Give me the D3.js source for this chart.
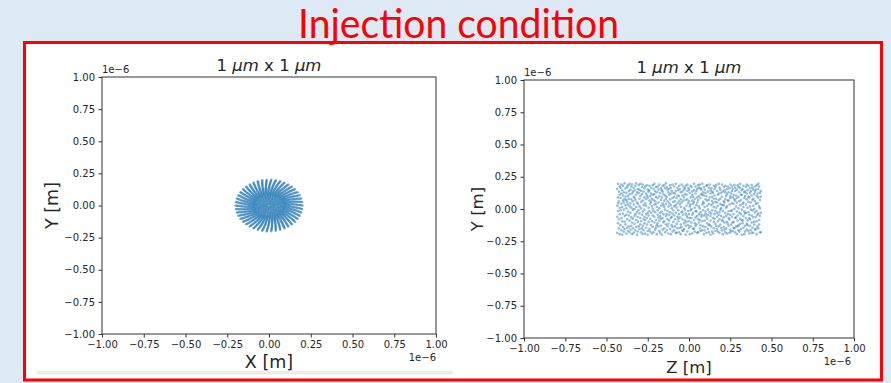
<!DOCTYPE html>
<html>
<head>
<meta charset="utf-8">
<script src="https://cdn.jsdelivr.net/npm/d3@7/dist/d3.min.js"></script>
<style>
  html, body { margin: 0; padding: 0; background: #dde9f5; }
  svg { display: block; }
</style>
</head>
<body>
<svg id="chart" width="891" height="383"></svg>
<script>
// ---- data (positions in micrometres, axes are labelled in units of 1e-6 m) ----
const tickValues = [-1, -0.75, -0.5, -0.25, 0, 0.25, 0.5, 0.75, 1];

// transverse beam spot: rings of particles (radius, particles per ring, angular offset in degrees)
const ringRadius = [0.200, 0.192, 0.184, 0.176, 0.168, 0.160, 0.152, 0.144, 0.136, 0.128,
                    0.120, 0.112, 0.104, 0.096, 0.088,
                    0.080, 0.072, 0.064, 0.056, 0.048, 0.040, 0.032, 0.024, 0.016, 0.008];
const ringCount  = [46, 46, 46, 46, 46, 46, 46, 46, 46, 46,
                    46, 46, 46, 46, 46,
                    34, 30, 27, 24, 20, 17, 14, 10, 7, 3];
const ringTwist  = [0, 0.5, 1.0, 1.5, 2.0, 2.5, 3.0, 3.5, 4.0, 4.5,
                    5.0, 5.5, 6.0, 6.5, 7.0,
                    11, 23, 5, 37, 17, 29, 3, 41, 13, 60];

// longitudinal view: each row is [z, y1, y2, ...] in steps of 0.005 µm
const cloudStep = 0.005;
const cloudRows = [
[-87,31,-12,5,-37],[-86,-22,18,39,-3,9],[-85,12,-30,27,-16],[-84,-39,2,22,-8,35],
[-83,17,-25,-2,33],[-82,-14,8,38,-33,24],[-81,3,-19,29,-40],[-80,21,-7,-28,13,36],
[-79,-35,10,-1,26],[-78,40,-20,15,-11,-31],[-77,6,32,-24,19],[-76,-9,25,-38,1,14],
[-75,34,-16,11,-29],[-74,-4,20,-34,37,7],[-73,28,-27,-10,16],[-72,-18,4,39,-36,23],
[-71,9,-32,30,-6],[-70,-26,15,-13,35,2],[-69,38,-21,24,-39],[-68,-1,12,-30,27,-15],
[-67,19,-37,7,33],[-66,-11,29,-23,0,17],[-65,36,-8,-33,14],[-64,-28,22,3,-17,40],
[-63,10,-40,26,-5],[-62,-20,31,-12,8,-35],[-61,25,-2,37,-27],[-60,-7,16,-31,4,30],
[-59,39,-14,20,-24],[-58,1,-36,11,28,-19],[-57,-30,23,-9,34],[-56,13,-4,-26,38,-39],
[-55,-16,27,6,-33],[-54,32,-22,18,-1,-12],[-53,-38,9,35,-17],[-52,5,-29,24,-8,15],
[-51,-24,37,-14,21],[-50,18,-6,-34,30,-40],[-49,-10,2,27,-20],[-48,29,-31,13,-3,36],
[-47,-35,20,-15,8],[-46,11,33,-25,-6,24],[-45,-19,-38,4,16],[-44,37,-10,22,-28,0],
[-43,-3,14,-36,31],[-42,23,-21,7,-12,39],[-41,-32,28,-5,12],[-40,8,-17,34,-29,19],
[-39,-25,3,-39,26],[-38,35,-9,17,-22,-2],[-37,-13,30,-27,10],[-36,20,-34,1,38,-18],
[-35,-6,25,-11,-37],[-34,14,-26,32,5,-15],[-33,-40,18,-4,29],[-32,27,-14,9,-32,36],
[-31,-21,6,23,-8],[-30,3,-30,37,-19,13],[-29,-36,21,-1,32],[-28,16,-11,-24,8,40],
[-27,-8,34,-33,19],[-26,30,-3,12,-27,-16],[-25,-23,26,-38,4],[-24,9,-18,31,-9,22],
[-23,-31,15,-5,37],[-22,24,-39,6,-14,33],[-21,-12,1,28,-25],[-20,38,-28,17,-7,-35],
[-19,-2,11,-20,25],[-18,19,-33,35,-10,4],[-17,-27,24,-16,12],[-16,6,-6,39,-37,28],
[-15,-37,17,-23,2],[-14,33,-12,9,-30,21],[-13,-15,29,-2,-19],[-12,12,-36,20,36,-8],
[-11,-29,7,-13,31],[-10,26,-24,3,-39,15],[-9,-5,38,-28,10],[-8,21,-16,27,-4,-33],
[-7,-34,13,-9,35],[-6,2,-22,18,-31,30],[-5,-18,32,-1,23],[-4,36,-7,-26,14,-40],
[-3,-10,22,5,-20],[-2,15,-35,28,-13,38],[-1,-25,9,-3,33],[0,30,-19,12,-29,-8],
[1,-39,4,25,-14],[2,7,-27,36,18,-2],[3,-14,34,-21,0],[4,27,-9,13,-38,22],
[5,-31,19,-6,8],[6,11,-30,39,-17,29],[7,-22,2,-35,16],[8,35,-13,24,-3,-26],
[9,-4,28,-24,6],[10,18,-37,10,31,-11],[11,-36,14,-16,37],[12,4,-21,33,-8,20],
[13,-17,38,-30,1],[14,32,-5,17,-25,-34],[15,-9,23,-12,30],[16,22,-33,7,-19,39],
[17,-27,11,-2,26],[18,9,-39,21,-10,34],[19,-33,30,-18,3],[20,25,-8,-28,15,-4],
[21,-12,36,-37,20],[22,37,-15,5,-22,13],[23,-1,27,-31,-9],[24,14,-25,33,-36,8],
[25,-24,18,-5,38],[26,29,-11,24,-18,-40],[27,-7,6,-27,32],[28,19,-35,12,-2,27],
[29,-38,25,-14,9],[30,3,-20,36,-30,16],[31,-15,31,-8,21],[32,34,-3,-23,11,-34],
[33,-26,16,2,37],[34,10,-31,28,-12,-6],[35,-35,22,-19,5],[36,24,-9,39,-27,14],
[37,-5,33,-37,-16],[38,16,-24,8,30,-1],[39,-29,1,-11,25],[40,38,-17,19,-33,6],
[41,-19,27,-3,-39],[42,6,-28,34,12,-13],[43,-32,10,-21,29],[44,26,-6,15,-36,36],
[45,-11,20,-30,2],[46,31,-38,4,-20,23],[47,-23,35,-8,13],[48,13,-14,26,-26,-3],
[49,-37,7,-16,32],[50,20,-32,38,-9,17],[51,-3,24,-24,-35],[52,35,-12,9,-2,28],
[53,-21,31,-34,18],[54,8,-20,22,-29,-8],[55,-30,15,0,37],[56,28,-36,13,-14,33],
[57,-13,4,-27,21],[58,17,-4,30,-39,10],[59,-27,37,-10,-18],[60,1,-25,19,34,-33],
[61,-35,12,-6,26],[62,33,-15,6,-23,39],[63,-8,22,-31,14],[64,22,-40,29,-1,-17],
[65,-18,8,-22,31],[66,10,-29,36,-11,3],[67,-39,26,-4,17],[68,27,-7,-35,20,-26],
[69,-6,34,-14,7],[70,15,-23,24,-32,38],[71,-25,2,-18,29],[72,36,-34,11,-5,19],
[73,-14,18,-38,-9],[74,4,-16,32,-26,25],[75,-33,28,-1,10],[76,21,-10,37,-21,-37],
[77,-2,14,-29,33],[78,30,-37,5,-13,16],[79,-20,23,-24,0],[80,12,-5,35,-32,27],
[81,-31,30,-12,8],[82,37,-19,20,-39,-3],[83,-9,9,-27,24],[84,18,-30,31,-7,39],
[85,-24,4,-17,35],[86,25,-11,14,-36,1],[87,-36,19,-6,28]
];

// ---- derived point lists ----
const discPoints = [];
ringRadius.forEach((r, i) => {
  for (let k = 0; k < ringCount[i]; k++) {
    const a = (ringTwist[i] + 360 * k / ringCount[i]) * Math.PI / 180;
    discPoints.push({ x: r * Math.cos(a), y: r * Math.sin(a) });
  }
});
const sidePoints = [];
cloudRows.forEach(row => {
  row.slice(1).forEach(v => sidePoints.push({ x: row[0] * cloudStep, y: v * cloudStep }));
});

// ---- drawing ----
const svg = d3.select("#chart");
const W = 891, H = 383;
const FONT = "'DejaVu Sans', sans-serif";
const INK = "#262626";

svg.append("rect").attr("width", W).attr("height", H).attr("fill", "#dde9f5");

// framed white area
svg.append("rect")
  .attr("x", 24.5).attr("y", 42.5).attr("width", 857).attr("height", 337.5)
  .attr("fill", "#ffffff");
svg.append("rect")
  .attr("x", 37).attr("y", 371).attr("width", 416).attr("height", 3.5)
  .attr("fill", "#ececec");
svg.append("rect")
  .attr("x", 24.5).attr("y", 42.5).attr("width", 857).attr("height", 337.5)
  .attr("fill", "none").attr("stroke", "#ff0000").attr("stroke-width", 3);

// slide heading (drawn over the frame so the descender stays visible)
svg.append("text")
  .attr("x", 458.5).attr("y", 37.5)
  .attr("text-anchor", "middle")
  .attr("font-family", "Lato, 'Open Sans', sans-serif")
  .attr("font-size", 41)
  .attr("fill", "#ff0000")
  .attr("textLength", 321).attr("lengthAdjust", "spacingAndGlyphs")
  .text("Injection condition");

const panels = [
  { box: [102, 436, 77, 334], points: discPoints, radius: 1.25, opacity: 0.6,
    xlabel: "X [m]", ylabelX: 58, labelSize: 17.5, titleY: 71,
    xlabelY: 367.5, offTopY: 73, offBottomX: 436, offBottomY: 361 },
  { box: [524, 854, 80, 338], points: sidePoints, radius: 1.3, opacity: 0.48,
    xlabel: "Z [m]", ylabelX: 483, labelSize: 16.5, titleY: 73,
    xlabelY: 372.5, offTopY: 75.5, offBottomX: 851, offBottomY: 365 }
];

const fmt = d3.format(".2f");

panels.forEach(p => {
  const [x0, x1, y0, y1] = p.box;
  const x = d3.scaleLinear().domain([-1, 1]).range([x0, x1]);
  const y = d3.scaleLinear().domain([-1, 1]).range([y1, y0]);
  const g = svg.append("g");

  // markers
  g.append("g").selectAll("circle").data(p.points).join("circle")
    .attr("cx", d => x(d.x)).attr("cy", d => y(d.y))
    .attr("r", p.radius)
    .attr("fill", "#1f77b4")
    .attr("fill-opacity", p.opacity);

  // axes
  const ax = g.append("g").attr("transform", `translate(0,${y1})`)
    .call(d3.axisBottom(x).tickValues(tickValues).tickFormat(fmt)
      .tickSize(3.5).tickPadding(3.5).tickSizeOuter(0));
  const ay = g.append("g").attr("transform", `translate(${x0},0)`)
    .call(d3.axisLeft(y).tickValues(tickValues).tickFormat(fmt)
      .tickSize(3.5).tickPadding(3.5).tickSizeOuter(0));
  [ax, ay].forEach(a => {
    a.select(".domain").remove();
    a.selectAll(".tick line").attr("stroke", "#333");
    a.selectAll(".tick text").attr("fill", INK)
      .attr("font-family", FONT).attr("font-size", 10);
  });

  // frame
  g.append("rect")
    .attr("x", x0).attr("y", y0).attr("width", x1 - x0).attr("height", y1 - y0)
    .attr("fill", "none").attr("stroke", "#333").attr("stroke-width", 1);

  // title with italic units
  const cx = (x0 + x1) / 2;
  const t = g.append("text").attr("x", cx).attr("y", p.titleY)
    .attr("text-anchor", "middle").attr("font-family", FONT)
    .attr("font-size", 16.5).attr("fill", INK);
  t.append("tspan").text("1 ");
  t.append("tspan").attr("font-style", "italic").text("μm");
  t.append("tspan").text(" x 1 ");
  t.append("tspan").attr("font-style", "italic").text("μm");

  // axis labels
  g.append("text").attr("x", cx).attr("y", p.xlabelY)
    .attr("text-anchor", "middle").attr("font-family", FONT)
    .attr("font-size", p.labelSize).attr("fill", INK).text(p.xlabel);
  g.append("text")
    .attr("transform", `translate(${p.ylabelX},${(y0 + y1) / 2}) rotate(-90)`)
    .attr("text-anchor", "middle").attr("font-family", FONT)
    .attr("font-size", p.labelSize).attr("fill", INK).text("Y [m]");

  // offset (scale) annotations
  g.append("text").attr("x", x0).attr("y", p.offTopY)
    .attr("font-family", FONT).attr("font-size", 10).attr("fill", INK).text("1e−6");
  g.append("text").attr("x", p.offBottomX).attr("y", p.offBottomY)
    .attr("text-anchor", "end")
    .attr("font-family", FONT).attr("font-size", 10).attr("fill", INK).text("1e−6");
});
</script>
</body>
</html>
